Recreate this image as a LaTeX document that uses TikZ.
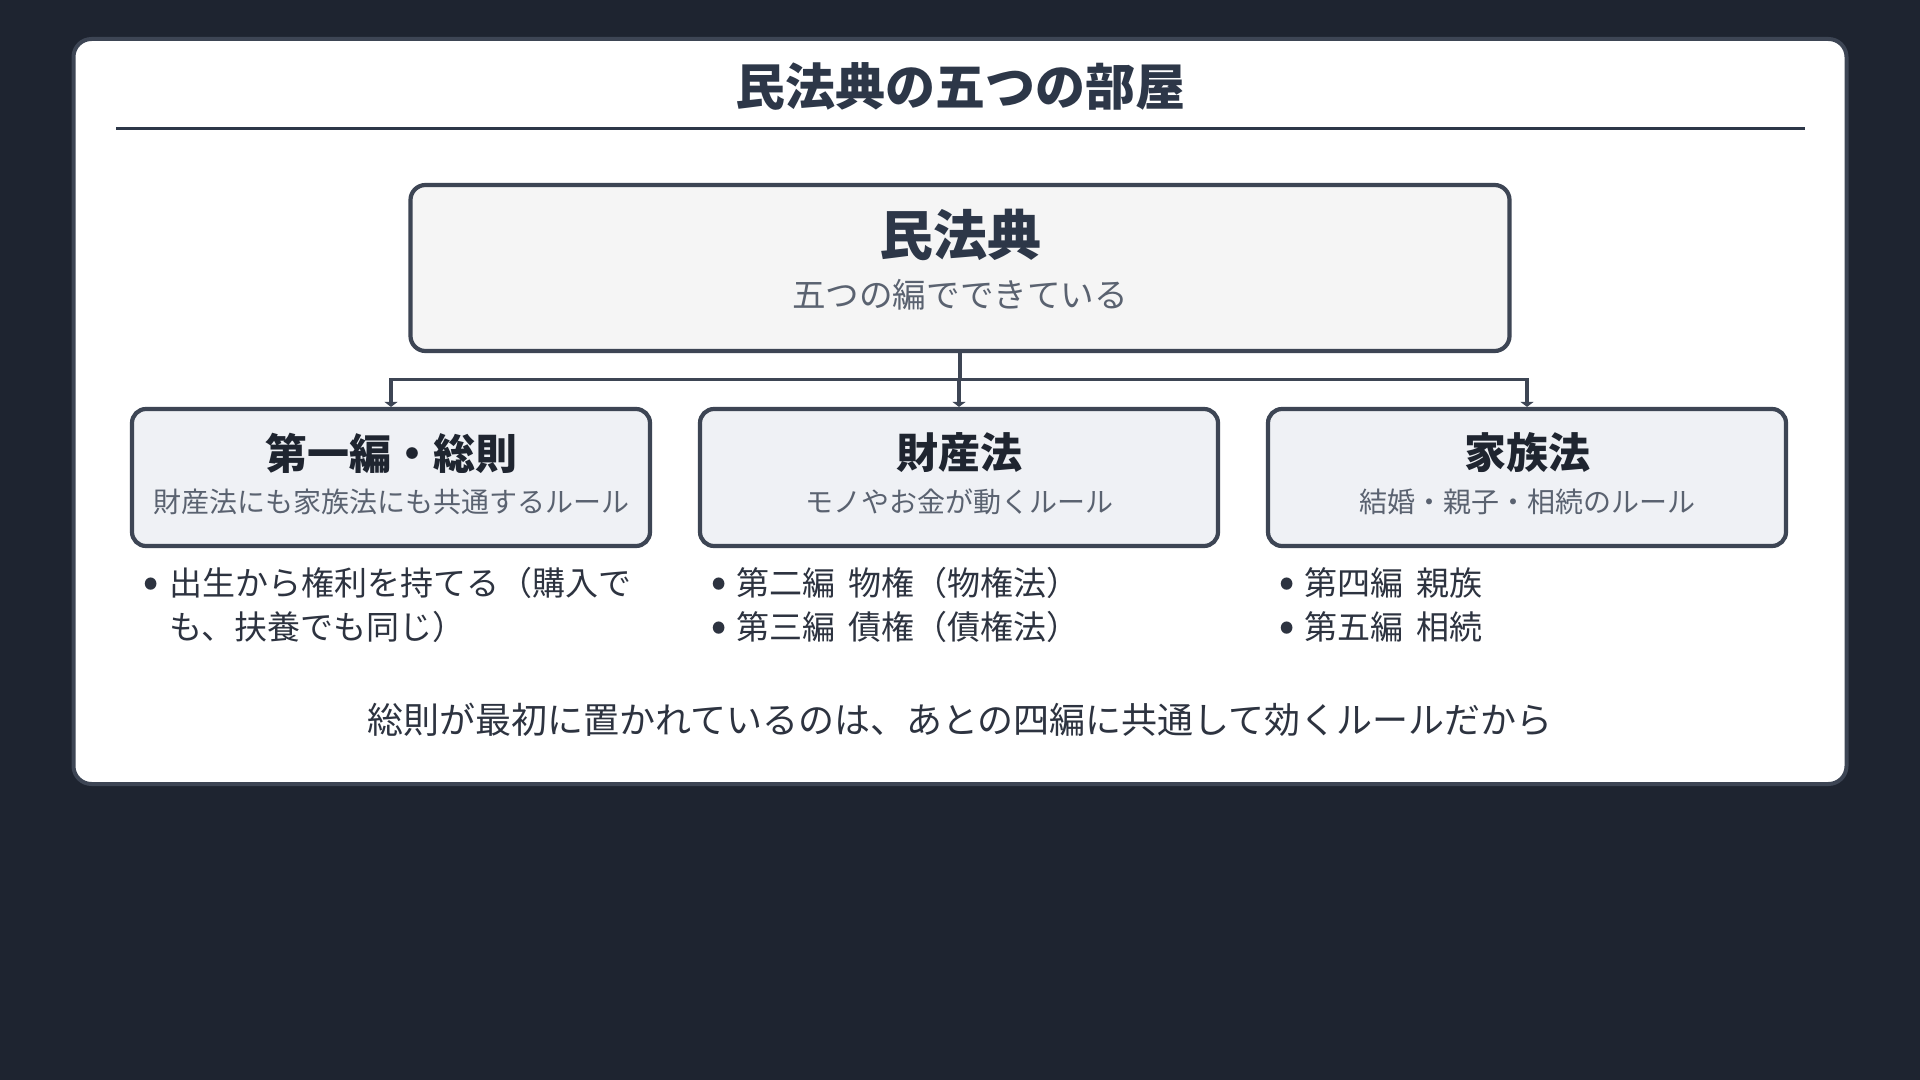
\documentclass[tikz,border=0pt]{standalone}
\usepackage{fontspec}
\setmainfont{Noto Sans CJK JP}
\definecolor{pagebg}{HTML}{1E2430}
\definecolor{frame}{HTML}{3D4554}
\definecolor{titlegray}{HTML}{2D3748}
\definecolor{headink}{HTML}{1F2530}
\definecolor{subgray}{HTML}{5A6270}
\definecolor{bodyink}{HTML}{2D3340}
\definecolor{rootfill}{HTML}{F5F5F5}
\definecolor{partfill}{HTML}{EFF1F5}
\usetikzlibrary{arrows.meta, positioning, calc}

\begin{document}
\begin{tikzpicture}[x = 0.5pt, y = -0.5pt,
	rootbox/.style = {draw = frame, fill = rootfill, line width = 2.1pt, rounded corners = 7.5pt, minimum width = 549.5pt, minimum height = 83pt, inner sep = 0pt},
	partbox/.style = {draw = frame, fill = partfill, line width = 2.1pt, rounded corners = 7pt, minimum width = 259pt, minimum height = 68.5pt, inner sep = 0pt},
	parthead/.style = {font = \fontsize{21}{24}\selectfont\bfseries, text = headink, inner sep = 0pt},
	partsub/.style = {font = \fontsize{14}{16}\selectfont, text = subgray, inner sep = 0pt},
	dot/.style = {font = \fontsize{19}{22}\selectfont\bfseries, text = bodyink, inner sep = 0pt},
	item/.style = {font = \fontsize{16.5}{22}\selectfont, text = bodyink, inner sep = 0pt, anchor = west, align = left},
	link/.style = {draw = frame, line width = 1.8pt},
	linkarrow/.style = {link, -{Triangle[length = 2.5pt, width = 6.5pt]}}]
\fill[pagebg] (0,0) rectangle (1920,1080);
\useasboundingbox (0,0) rectangle (1920,1080);
\draw[frame, fill = white, line width = 2pt, rounded corners = 9pt] (73.5,39) rectangle (1846.5,784);

% title
\node[font = \fontsize{25}{28}\selectfont\bfseries, text = titlegray, inner sep = 0pt] (title) at (960,86) {民法典の五つの部屋};
\coordinate (ruleL) at (116,128.6);
\coordinate (ruleR) at (1805,128.6);
\draw[titlegray, line width = 1.2pt] (ruleL) -- (ruleR);

% root
\node[rootbox] (root) at (960,268) {};
\node[font = \fontsize{27}{30}\selectfont\bfseries, text = titlegray, inner sep = 0pt] (roothead) at (960,235) {民法典};
\node[font = \fontsize{16.8}{19}\selectfont, text = subgray, inner sep = 0pt] (rootsub) at (960,295) {五つの編でできている};

% parts
\node[partbox] (ippan) at (391,477.5) {};
\node[partbox] (zaisan) at (959,477.5) {};
\node[partbox] (kazoku) at (1527,477.5) {};

\node[parthead] (ippanhead) at (391,453) {第一編・総則};
\node[partsub] (ippansub) at (391,502) {財産法にも家族法にも共通するルール};
\node[parthead] (zaisanhead) at (959,453) {財産法};
\node[partsub] (zaisansub) at (959,502) {モノやお金が動くルール};
\node[parthead] (kazokuhead) at (1527,453) {家族法};
\node[partsub] (kazokusub) at (1527,502) {結婚・親子・相続のルール};

% links
\coordinate (fork) at (960,379.6);
\draw[link] (root.south) -- (fork);
\foreach \b in {ippan, zaisan, kazoku}
	\draw[linkarrow] (fork) -| (\b.north);

% items
\foreach \x/\y [count = \n] in {151/587, 719/587, 719/631, 1287/587, 1287/631}
	\node[dot] (dot\n) at (\x,\y) {•};
\node[item] (item1) at (169,605) {出生から権利を持てる（購入で\\も、扶養でも同じ）};
\node[item] (item2) at (736,583) {第二編\hspace{0.4em}物権（物権法）};
\node[item] (item3) at (736,627) {第三編\hspace{0.4em}債権（債権法）};
\node[item] (item4) at (1304,583) {第四編\hspace{0.4em}親族};
\node[item] (item5) at (1304,627) {第五編\hspace{0.4em}相続};

% note
\node[font = \fontsize{18}{21}\selectfont, text = bodyink, inner sep = 0pt] (note) at (960,720) {総則が最初に置かれているのは、あとの四編に共通して効くルールだから};
\end{tikzpicture}
\end{document}
